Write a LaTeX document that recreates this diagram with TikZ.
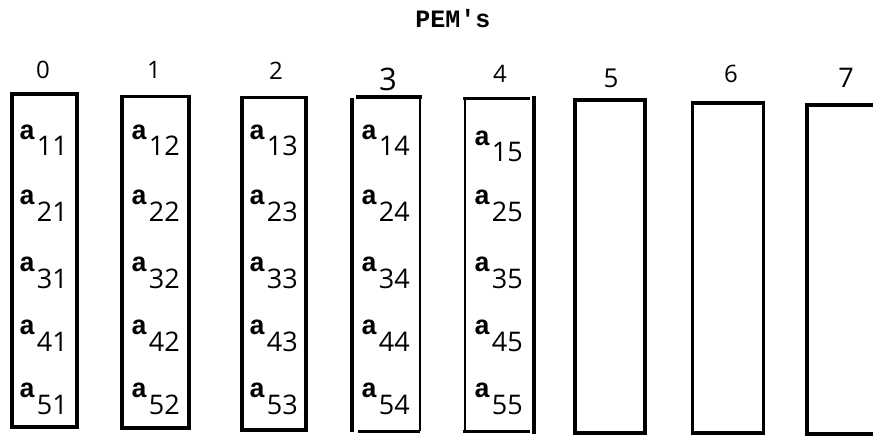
\documentclass[tikz,border=0pt]{standalone}
\usepackage{fontspec}
\setmainfont{Liberation Serif}
\newfontfamily\monofnt{Liberation Mono}
\newfontfamily\digfnt{Open Sans}
\begin{document}
\begin{tikzpicture}[x=1pt,y=-1pt,
  boxline/.style={line width=3.6pt,line cap=rect},
  thinline/.style={line width=2.2pt},
  entry/.style={anchor=base west,inner sep=0pt},
  hdr/.style={anchor=base,inner sep=0pt,font=\digfnt\fontsize{24}{24}\selectfont},
]
\useasboundingbox (0,0) rectangle (873,436);
\newcommand\myent[1]{{\monofnt\bfseries\fontsize{27}{27}\selectfont a}\kern1.5pt\raisebox{-17pt}{\digfnt\fontsize{27}{27}\selectfont #1}}
% title
\node[anchor=base,inner sep=0pt,font=\monofnt\bfseries\fontsize{25}{25}\selectfont] (title) at (453,28) {PEM's};
% column numbers
\node[hdr] (h0) at (43,78) {0};
\node[hdr] (h1) at (154,78) {1};
\node[hdr] (h2) at (276,80) {2};
\node[hdr,font=\digfnt\fontsize{31}{31}\selectfont] (h3) at (388,91) {3};
\node[hdr] (h4) at (500,82) {4};
\node[hdr,font=\digfnt\fontsize{26}{26}\selectfont] (h5) at (611,88) {5};
\node[hdr] (h6) at (731,83) {6};
\node[hdr,font=\digfnt\fontsize{27}{27}\selectfont] (h7) at (846,88) {7};
% boxes
\draw[boxline] (12,94) rectangle (77,427);
\draw[boxline] (122,96.5) rectangle (189,428);
\draw[boxline] (242,97.5) rectangle (306,430);
% box 3
\draw[boxline] (352,100) -- (352,430);
\draw[boxline] (358,97) -- (420,97);
\draw[thinline] (420,97) -- (420,431);
\draw[line width=3pt] (358,431) -- (420,431);
% box 4
\draw[boxline] (465,98.5) -- (528,98.5);
\draw[line width=2.6pt] (465,98.5) -- (465,431.5);
\draw[boxline] (465,431.5) -- (528,431.5);
\draw[boxline] (534,98) -- (534,432);
% box 5, 6
\draw[boxline] (575,100) rectangle (645,433);
\draw[boxline] (692.5,103) rectangle (763.5,433);
% box 7
\draw[boxline] (880,105) -- (807,105) -- (807,434) -- (880,434);
% entries
\foreach \c/\x/\k in {1/19/0,2/131/0,3/249/0,4/361/0,5/474/1}{
  \foreach \r/\y in {1/139,2/204,3/271,4/334,5/397}{
    \pgfmathsetmacro\yy{\y+(\r==1 ? 6*\k : 0)}
    \node[entry] (a\r\c) at (\x,\yy) {\myent{\r\c}};
  }
}
\end{tikzpicture}
\end{document}
